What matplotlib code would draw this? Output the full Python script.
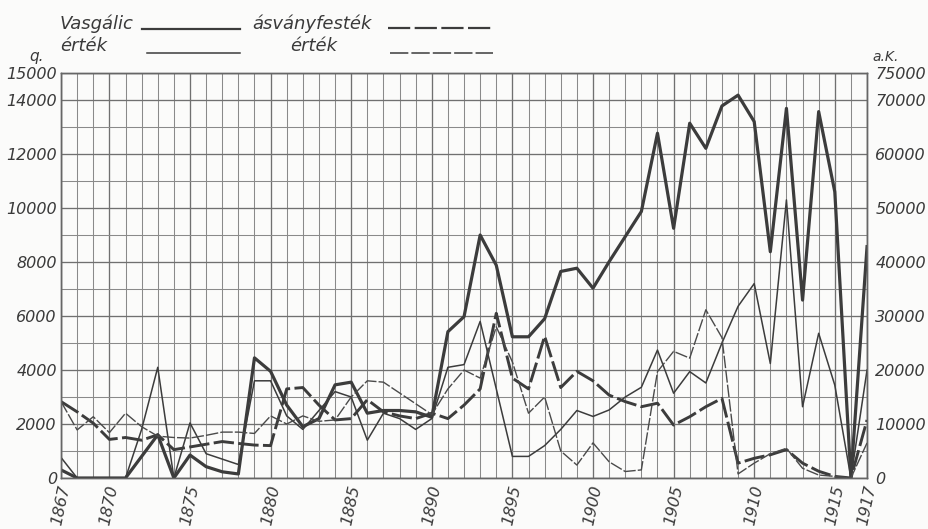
import matplotlib
matplotlib.use("Agg")
import matplotlib.pyplot as plt
import numpy as np

years = list(range(1867, 1918))

# Vasgálic, quantity (q.)
vasgalic_q = [300, 0, 0, 0, 0, 800, 1600, 0, 850, 420,
              230, 150, 4450, 3950, 2700, 1900, 2200, 3450, 3550, 2400,
              2500, 2500, 2450, 2250, 5420, 5975, 9000, 7880, 5230, 5230,
              5900, 7650, 7770, 7030, 8010, 8940, 9870, 12770, 9250, 13140,
              12210, 13780, 14180, 13200, 8380, 13690, 6590, 13570, 10600, 0,
              8570]

# Vasgálic, value (a.K.)
vasgalic_ertek = [3800, 0, 0, 0, 0, 9000, 20500, 0, 10200, 4500,
                  3500, 2500, 18000, 18000, 11500, 9000, 12500, 16000, 15000, 7000,
                  12000, 11000, 9000, 11000, 20500, 21000, 29000, 16500, 4000, 4000,
                  6000, 9000, 12500, 11400, 12600, 15000, 16800, 23700, 15700, 19700,
                  17600, 25000, 31800, 36000, 21200, 51500, 13200, 26800, 17200, 0,
                  20000]

# ásványfesték, quantity (q.)
asvanyfestek_q = [2830, 2450, 2030, 1430, 1500, 1400, 1600, 1050, 1150, 1250,
                  1350, 1280, 1220, 1200, 3300, 3350, 2700, 2150, 2200, 2900,
                  2450, 2300, 2200, 2400, 2200, 2700, 3300, 6100, 3700, 3300,
                  5250, 3350, 3950, 3600, 3070, 2830, 2640, 2770, 1960, 2270,
                  2640, 2950, 550, 730, 860, 1050, 550, 250, 60, 0,
                  2150]

# ásványfesték, value (a.K.)
asvanyfestek_ertek = [14150, 8900, 11350, 8400, 12000, 9500, 7750, 7500, 7400, 7900,
                      8500, 8500, 8250, 11500, 10000, 11500, 10500, 10750, 15000, 18000,
                      17750, 15750, 13750, 11750, 16500, 20000, 18500, 28000, 21500, 12000,
                      15000, 5000, 2400, 6500, 3000, 1200, 1500, 19700, 23450, 22200,
                      31150, 26000, 750, 2750, 4500, 5500, 1800, 550, 300, 0,
                      6500]

x_labels = [1867, 1870, 1875, 1880, 1885, 1890, 1895, 1900, 1905, 1910, 1915, 1917]
left_ticks = [0, 2000, 4000, 6000, 8000, 10000, 12000, 14000, 15000]
right_ticks = [0, 10000, 20000, 30000, 40000, 50000, 60000, 70000, 75000]

ink = "#3c3c3c"
grid_c = "#8a8a8a"
txt_kw = dict(style="italic", color="#3a3a3a", family="DejaVu Sans")

fig = plt.figure(figsize=(9.29, 5.29), dpi=100)
fig.patch.set_facecolor("#fbfbfa")
ax = fig.add_axes([0.0657, 0.0964, 0.8676, 0.7656])
ax.set_facecolor("#fbfbfa")
ax2 = ax.twinx()

ax.set_xlim(1867, 1917)
ax.set_ylim(0, 15000)
ax2.set_ylim(0, 75000)

ax.set_xticks(x_labels)
ax.set_xticks(years, minor=True)
ax.set_yticks(left_ticks)
ax.set_yticks(range(0, 15001, 1000), minor=True)
ax2.set_yticks(right_ticks)

ax.grid(which="minor", color=grid_c, linewidth=0.75)
ax.grid(which="major", color="#707070", linewidth=0.95)
ax.set_axisbelow(True)

ax.tick_params(which="both", length=0)
ax2.tick_params(which="both", length=0)
ax.set_xticklabels([str(y) for y in x_labels], rotation=78, fontsize=11.5,
                   ha="center", va="top", **txt_kw)
ax.set_yticklabels([str(v) for v in left_ticks], fontsize=11.5, **txt_kw)
ax2.set_yticklabels([str(v) for v in right_ticks], fontsize=11.5, **txt_kw)
ax.tick_params(axis="x", pad=4)
ax.tick_params(axis="y", pad=3)
ax2.tick_params(axis="y", pad=6)

for a in (ax, ax2):
    for s in a.spines.values():
        s.set_color("#666666")
        s.set_linewidth(1.0)

ax.plot(years, vasgalic_q, color=ink, linewidth=2.3)
ax2.plot(years, vasgalic_ertek, color=ink, linewidth=1.1)
ax.plot(years, asvanyfestek_q, color=ink, linewidth=2.1, dashes=(7, 1.5))
ax2.plot(years, asvanyfestek_ertek, color="#4a4a4a", linewidth=1.0, dashes=(9, 1.5))

# legend lettering at the top
fig.text(60 / 929, 1 - 24 / 529, "Vasgálic", fontsize=13, va="center", **txt_kw)
fig.text(60 / 929, 1 - 46 / 529, "érték", fontsize=13, va="center", **txt_kw)
fig.text(252 / 929, 1 - 24 / 529, "ásványfesték", fontsize=13, va="center", **txt_kw)
fig.text(290 / 929, 1 - 46 / 529, "érték", fontsize=13, va="center", **txt_kw)
fig.add_artist(plt.Line2D([142 / 929, 240 / 929], [1 - 29 / 529] * 2, color=ink, linewidth=1.6))
fig.add_artist(plt.Line2D([147 / 929, 240 / 929], [1 - 53 / 529] * 2, color=ink, linewidth=1.1))
fig.add_artist(plt.Line2D([388 / 929, 493 / 929], [1 - 28 / 529] * 2, color=ink, linewidth=1.6,
                          dashes=(10, 2)))
fig.add_artist(plt.Line2D([390 / 929, 493 / 929], [1 - 53 / 529] * 2, color=ink, linewidth=1.1,
                          dashes=(12, 2)))

fig.text(37 / 929, 1 - 57 / 529, "q.", fontsize=11, ha="center", va="center", **txt_kw)
fig.text(886 / 929, 1 - 57 / 529, "a.K.", fontsize=10, ha="center", va="center", **txt_kw)

fig.savefig("out.png", dpi=100, facecolor=fig.get_facecolor())
